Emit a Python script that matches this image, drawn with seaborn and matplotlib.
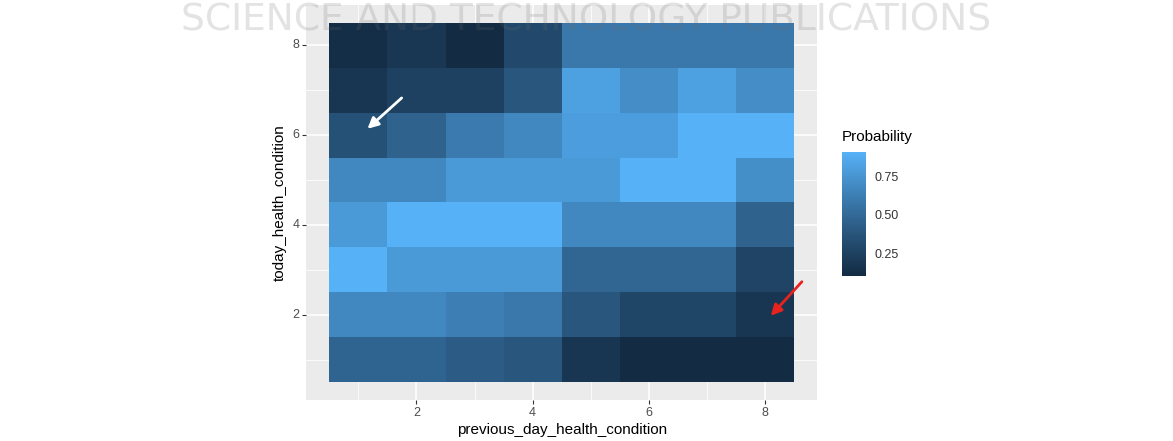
#!/usr/bin/env python3

import matplotlib
matplotlib.use("Agg")
import matplotlib.pyplot as plt
from matplotlib.colors import ListedColormap, to_rgb
import numpy as np
import pandas as pd
import seaborn as sns


prev_day = [1, 2, 3, 4, 5, 6, 7, 8]
today = [1, 2, 3, 4, 5, 6, 7, 8]

# probability per today_health_condition row, across previous_day 1..8
row_1 = [0.47, 0.47, 0.42, 0.38, 0.17, 0.10, 0.10, 0.10]
row_2 = [0.68, 0.68, 0.63, 0.59, 0.38, 0.28, 0.28, 0.17]
row_3 = [0.91, 0.78, 0.78, 0.78, 0.48, 0.48, 0.48, 0.27]
row_4 = [0.78, 0.91, 0.91, 0.91, 0.68, 0.68, 0.68, 0.46]
row_5 = [0.68, 0.68, 0.78, 0.78, 0.78, 0.91, 0.91, 0.72]
row_6 = [0.35, 0.46, 0.60, 0.68, 0.80, 0.80, 0.91, 0.91]
row_7 = [0.17, 0.25, 0.25, 0.38, 0.82, 0.71, 0.82, 0.71]
row_8 = [0.12, 0.18, 0.10, 0.30, 0.59, 0.59, 0.59, 0.59]

cbar_ticks = [0.25, 0.50, 0.75]
axis_ticks = [2, 4, 6, 8]

M = np.array([[0.4124, 0.3576, 0.1805],
              [0.2126, 0.7152, 0.0722],
              [0.0193, 0.1192, 0.9505]])
WHITE = np.array([0.95047, 1.0, 1.08883])


def to_lab(color):
    c = np.array(to_rgb(color))
    lin = np.where(c <= 0.04045, c / 12.92, ((c + 0.055) / 1.055) ** 2.4)
    t = (M @ lin) / WHITE
    f = np.where(t > 0.008856, np.cbrt(t), (903.3 * t + 16) / 116)
    return np.array([116 * f[1] - 16, 500 * (f[0] - f[1]), 200 * (f[1] - f[2])])


def from_lab(lab):
    fy = (lab[0] + 16) / 116
    f = np.array([fy + lab[1] / 500, fy, fy - lab[2] / 200])
    t = np.where(f ** 3 > 0.008856, f ** 3, (116 * f - 16) / 903.3) * WHITE
    lin = np.linalg.solve(M, t)
    c = np.where(lin <= 0.0031308, 12.92 * lin, 1.055 * np.clip(lin, 0, None) ** (1 / 2.4) - 0.055)
    return np.clip(c, 0, 1)


def gg_gradient(low, high, n=256):
    # same as scales::seq_gradient_pal, interpolated in CIELAB
    a, b = to_lab(low), to_lab(high)
    return ListedColormap([from_lab(a + (b - a) * s) for s in np.linspace(0, 1, n)])


def build_matrix():
    rows = [row_1, row_2, row_3, row_4, row_5, row_6, row_7, row_8]
    return pd.DataFrame(np.array(rows), index=today, columns=prev_day)


def tile_plot(matrix, out):
    sns.set_theme(style="darkgrid", rc={
        "axes.facecolor": "#EBEBEB",
        "grid.color": "white",
        "figure.facecolor": "white",
    })
    plt.rcParams["font.family"] = ["Liberation Sans", "DejaVu Sans"]

    fig = plt.figure(figsize=(11.73, 4.41), dpi=100)
    ax = fig.add_axes([0.261, 0.093, 0.4356, 0.8957])
    cax = fig.add_axes([0.718, 0.374, 0.0205, 0.281])

    cmap = gg_gradient("#132B43", "#56B1F7")

    sns.heatmap(matrix, ax=ax, cmap=cmap, cbar_ax=cax, linewidths=0,
                cbar_kws={"ticks": cbar_ticks, "format": "%.2f"})

    # continuous-looking axes with ggplot padding
    ax.set_xlim(-0.4, len(prev_day) + 0.4)
    ax.set_ylim(-0.4, len(today) + 0.4)
    ax.set_facecolor("#EBEBEB")
    ax.set_axisbelow(True)

    ax.set_xticks([v - 0.5 for v in axis_ticks])
    ax.set_xticklabels([str(v) for v in axis_ticks], rotation=0)
    ax.set_yticks([v - 0.5 for v in axis_ticks])
    ax.set_yticklabels([str(v) for v in axis_ticks], rotation=0)
    ax.set_xticks([v - 1.5 for v in axis_ticks], minor=True)
    ax.set_yticks([v - 1.5 for v in axis_ticks], minor=True)

    ax.grid(True, which="major", color="white", linewidth=1.1)
    ax.grid(True, which="minor", color="white", linewidth=0.55)
    ax.tick_params(which="major", length=3, width=0.8, color="#333333",
                   labelsize=9, labelcolor="#4D4D4D", pad=2,
                   bottom=True, left=True)
    ax.tick_params(which="minor", length=0)
    for s in ax.spines.values():
        s.set_visible(False)

    ax.set_xlabel("previous_day_health_condition", fontsize=11, color="black", labelpad=3)
    ax.set_ylabel("today_health_condition", fontsize=11, color="black", labelpad=4)

    # legend bar in ggplot style
    cbar = ax.collections[0].colorbar
    cbar.outline.set_visible(False)
    cax.tick_params(left=True, right=True, labelleft=False, labelright=True,
                    direction="in", length=4.5, width=0.6, color="white",
                    labelcolor="#333333", labelsize=9, pad=6)
    cax.set_title("Probability", loc="left", fontsize=11, pad=8, color="black")

    # arrows highlighting two cells
    white_cell = (1, 6)
    red_cell = (8, 2)
    ax.annotate("", xy=(white_cell[0] - 0.38, white_cell[1] - 0.4),
                xytext=(white_cell[0] + 0.28, white_cell[1] + 0.37),
                arrowprops=dict(arrowstyle="-|>", color="white", lw=2, mutation_scale=16))
    ax.annotate("", xy=(red_cell[0] - 0.43, red_cell[1] - 0.57),
                xytext=(red_cell[0] + 0.17, red_cell[1] + 0.28),
                arrowprops=dict(arrowstyle="-|>", color="#E8231E", lw=2, mutation_scale=16),
                annotation_clip=False)

    # publisher watermark
    fig.text(0.5, 0.93, "SCIENCE AND TECHNOLOGY PUBLICATIONS", ha="center", va="baseline",
             fontsize=27, family="DejaVu Sans", color="#6C6C6C", alpha=0.19, zorder=10)

    fig.savefig(out, dpi=100)


if __name__ == '__main__':
    matrix = build_matrix()
    tile_plot(matrix, "out.png")
